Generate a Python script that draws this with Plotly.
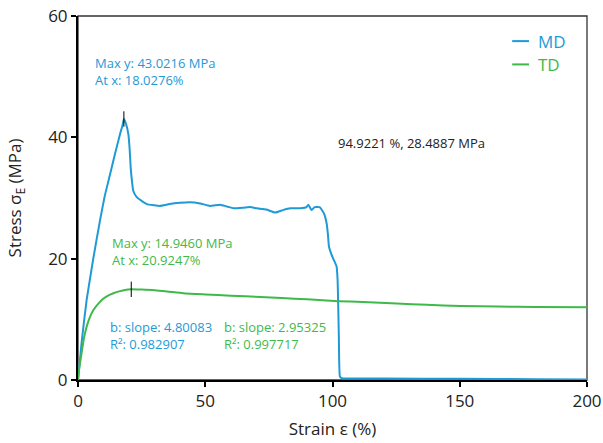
import plotly.graph_objects as go

# ---- data ----
md_x = [0, 1.5, 3.4, 6.0, 8.6, 10.5, 12.6, 14.5, 16.5, 17.5, 18.03, 18.8, 19.8, 20.3, 20.7, 21.2, 21.7, 23.0,
        24.4, 27.0, 30.0, 32.2, 36.0, 40.0, 44.0, 48.0, 51.9, 55.8, 58.5, 61.1, 65.0, 67.6, 70.3, 74.0,
        77.5, 80.5, 83.4, 87.3, 89.8, 90.5, 91.2, 91.8, 93.0, 94.92, 95.7, 96.8, 97.7, 98.2, 98.6, 99.5,
        100.5, 101.6, 102.0, 102.2, 102.5, 102.9, 103.6, 120, 150, 180, 200]
md_y = [0, 6.5, 13.2, 20.0, 26.2, 30.3, 33.9, 37.2, 40.5, 42.0, 43.02, 42.3, 40.5, 38.0, 35.0, 32.8, 31.2, 30.2,
        29.7, 29.0, 28.8, 28.7, 29.0, 29.2, 29.3, 29.1, 28.7, 28.9, 28.6, 28.3, 28.4, 28.5, 28.3, 28.1,
        27.6, 28.0, 28.3, 28.3, 28.5, 28.9, 28.4, 28.0, 28.5, 28.49, 28.1, 27.3, 25.8, 24.0, 22.0, 20.8,
        19.8, 18.7, 16.5, 13.2, 7.0, 0.6, 0.3, 0.25, 0.2, 0.12, 0.08]

td_x = [0, 0.5, 1.4, 2.3, 3.4, 4.6, 6.0, 8.0, 9.9, 12.0, 13.9, 16.5, 18.5, 20.92, 25, 30, 35, 41.4,
        50, 60, 71.6, 80, 90, 102.3, 112, 125.3, 137, 150.2, 165, 180, 200]
td_y = [0, 2.0, 4.4, 6.8, 8.8, 10.3, 11.5, 12.6, 13.4, 13.95, 14.3, 14.65, 14.85, 14.946, 14.9, 14.8, 14.6, 14.3,
        14.1, 13.9, 13.7, 13.5, 13.3, 13.0, 12.85, 12.6, 12.4, 12.2, 12.1, 12.05, 12.0]

md_peak = (18.0276, 43.0216)
td_peak = (20.9247, 14.9460)
md_point = (94.9221, 28.4887)
md_slope, md_r2 = 4.80083, 0.982907
td_slope, td_r2 = 2.95325, 0.997717

x_ticks = [0, 50, 100, 150, 200]
y_ticks = [0, 20, 40, 60]

BLUE = "#1e9ad6"
GREEN = "#3fb94a"
FONT = "Open Sans"

fig = go.Figure()
fig.add_trace(go.Scatter(x=md_x, y=md_y, mode="lines", name="MD",
                         line=dict(color=BLUE, width=2, shape="spline", smoothing=0.4),
                         showlegend=False, hoverinfo="skip"))
fig.add_trace(go.Scatter(x=td_x, y=td_y, mode="lines", name="TD",
                         line=dict(color=GREEN, width=2, shape="spline", smoothing=0.4),
                         showlegend=False, hoverinfo="skip"))
# peak markers
fig.add_trace(go.Scatter(x=[md_peak[0], td_peak[0]], y=[md_peak[1], td_peak[1]], mode="markers",
                         marker=dict(symbol="line-ns", size=11, line=dict(color="black", width=1)),
                         showlegend=False, hoverinfo="skip"))

def ann(x, y, text, color, size=13):
    fig.add_annotation(x=x, y=y, xref="x", yref="y", text=text, showarrow=False,
                       xanchor="left", yanchor="middle", align="left",
                       font=dict(family=FONT, size=size, color=color))

ann(5.9, 52.2, f"Max y: {md_peak[1]:.4f} MPa", BLUE)
ann(5.9, 49.4, f"At x: {md_peak[0]:.4f}%", BLUE)
ann(12.7, 22.6, f"Max y: {td_peak[1]:.4f} MPa", GREEN)
ann(12.7, 19.8, f"At x: {td_peak[0]:.4f}%", GREEN)
ann(101.3, 39.1, f"{md_point[0]:.4f} %, {md_point[1]:.4f} MPa", "#222222")
ann(11.7, 8.8, f"b: slope: {md_slope:.5f}", BLUE)
ann(11.7, 6.0, f"R²: {md_r2:.6f}", BLUE)
ann(56.7, 8.8, f"b: slope: {td_slope:.5f}", GREEN)
ann(56.7, 6.0, f"R²: {td_r2:.6f}", GREEN)

# legend (manual)
for yp, nm, col in [(0.931, "MD", BLUE), (0.867, "TD", GREEN)]:
    fig.add_shape(type="line", xref="paper", yref="paper", x0=0.853, x1=0.886, y0=yp, y1=yp,
                  line=dict(color=col, width=2))
    fig.add_annotation(x=0.9, y=yp, xref="paper", yref="paper", text=nm, showarrow=False,
                       xanchor="left", yanchor="middle", font=dict(family=FONT, size=17, color=col))

# thin frame (top/right)
fig.add_shape(type="rect", xref="paper", yref="paper", x0=0, x1=1, y0=0, y1=1,
              line=dict(color="#333333", width=1.3), layer="below")

fig.update_layout(
    width=603, height=443,
    margin=dict(l=78, r=16, t=16, b=63),
    paper_bgcolor="white", plot_bgcolor="white",
    font=dict(family=FONT, color="#222222"),
    showlegend=False,
)
fig.update_xaxes(range=[0, 200], tickvals=x_ticks, showgrid=False, zeroline=False, automargin=False,
                 showline=True, linecolor="black", linewidth=2,
                 ticks="outside", ticklen=5, tickwidth=1.5, tickcolor="black",
                 tickfont=dict(family=FONT, size=17, color="#222222"),
                 title=dict(text="Strain ε (%)", font=dict(family=FONT, size=17, color="#222222"), standoff=12))
fig.update_yaxes(range=[0, 60], tickvals=y_ticks, showgrid=False, zeroline=False, automargin=False,
                 showline=True, linecolor="black", linewidth=2,
                 ticks="outside", ticklen=5, tickwidth=1.5, tickcolor="black",
                 tickfont=dict(family=FONT, size=17, color="#222222"),
                 title=dict(text="Stress σ<sub>E</sub> (MPa)", font=dict(family=FONT, size=17, color="#222222"), standoff=22))

fig.write_html("out.html")
